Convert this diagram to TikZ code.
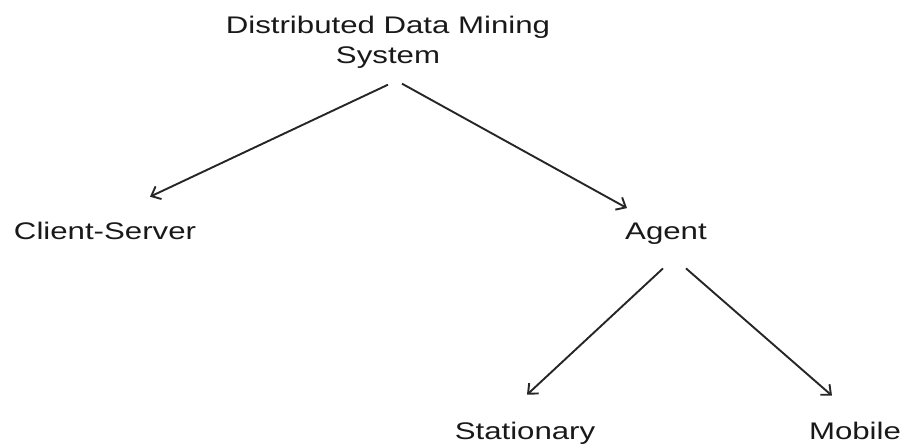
\documentclass[tikz,border=0pt]{standalone}
\usepackage{fontspec}
\setmainfont{Liberation Sans}[FakeStretch=1.3]
\usetikzlibrary{arrows.meta}

\begin{document}
\begin{tikzpicture}[x=0.5pt,y=-0.5pt,
    label/.style={inner sep=0pt,text=black!90,font=\fontsize{12}{15}\selectfont}]
      \useasboundingbox (0,0) rectangle (904,447);

      \draw (388,15.5) node
      [label,anchor=north,align=center]
      (ddm)
      {Distributed Data Mining\\System};

      \draw (105,239) node [label,anchor=base] (cs)    {Client-Server};
      \draw (666,239) node [label,anchor=base] (agent) {Agent};
      \draw (525,439) node [label,anchor=base] (stat)  {Stationary};
      \draw (855,439) node [label,anchor=base] (mob)   {Mobile};

      \scope[color=black!85,line width=0.95pt,-{Straight Barb[length=4pt,width=7pt]}]
        \draw ([shift={(0,16)}]ddm.south)    -- ([shift={(45,-24.5)}]cs.north);
        \draw ([shift={(14,15)}]ddm.south)   -- ([shift={(-39,-14)}]agent.north);
        \draw ([shift={(-3,24)}]agent.south) -- ([shift={(2,-26.5)}]stat.north);
        \draw ([shift={(20,24)}]agent.south) -- ([shift={(-23,-25.5)}]mob.north);
      \endscope
   \end{tikzpicture}
\end{document}
